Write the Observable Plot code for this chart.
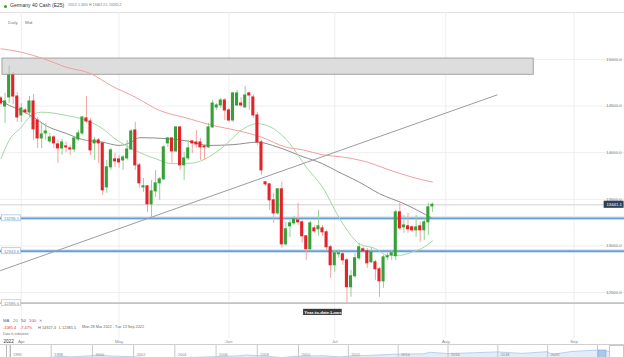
<!DOCTYPE html>
<html><head><meta charset="utf-8">
<script src="https://cdn.jsdelivr.net/npm/d3@7"></script>
<script src="https://cdn.jsdelivr.net/npm/@observablehq/plot@0.6"></script>
<style>
body{margin:0;background:#fff;font-family:Arial,"Liberation Sans",sans-serif;}
#wrap{position:relative;width:624px;height:357px;overflow:hidden;background:#fff;}
.t{position:absolute;white-space:nowrap;line-height:1;}
#main{position:absolute;left:0;top:12px;}
#navA{position:absolute;left:0;top:345px;}
#navB{position:absolute;left:298px;top:345px;}
#navline{position:absolute;left:0;top:344px;width:624px;height:0;border-top:1px solid #cfcfcf;}
#hdrline{position:absolute;left:0;top:12px;width:624px;height:0;border-top:1px solid #e2e2e2;}
</style></head>
<body><div id="wrap"><div id="hdrline"></div><div id="main"></div><div id="navA"></div><div id="navB"></div><div id="navline"></div></div>
<script>
// ---------------- data ----------------
// daily candles (trading-day index 0..106), Germany 40 Cash
const candleOpen  = [14582,14496,14593,14829,14603,14400,14453,14432,14550,14346,14153,14207,14121,14164,14089,14046,14067,14046,14035,14142,14207,14368,14335,14100,14132,14100,13628,13843,13928,13928,13917,13939,14035,14239,13864,13628,13639,13446,13585,13671,13714,14100,14153,14014,14271,13864,13939,14121,14110,14110,14067,14057,14271,14485,14507,14560,14453,14346,14507,14528,14485,14636,14593,14400,14110,13682,13660,13489,13349,13607,13017,13210,13242,13274,13253,13103,12964,13188,13178,13188,13146,12985,12792,12910,12910,12845,12556,12674,12867,12964,12942,12824,12824,12749,12620,12877,12899,12889,13360,13199,13210,13199,13167,13210,13167,13253,13424];
const candleHigh  = [14603,14636,14927,14861,14646,14528,14475,14603,14625,14378,14314,14314,14207,14185,14132,14142,14110,14078,14175,14239,14389,14603,14368,14164,14153,14110,13917,14046,13992,13971,13971,14132,14250,14325,13885,13724,13650,13703,13810,13735,14078,14164,14164,14282,14282,14003,14132,14132,14239,14153,14078,14314,14560,14528,14582,14582,14475,14646,14668,14593,14711,14646,14625,14432,14132,13693,13671,13564,13617,13682,13253,13274,13317,13457,13274,13114,13264,13220,13381,13220,13167,13006,12953,12953,12931,12867,12738,12921,13028,12985,12974,12985,12845,12770,12899,12921,12953,13381,13457,13328,13349,13220,13328,13253,13295,13457,13462];
const candleLow   = [14507,14314,14528,14518,14325,14325,14411,14378,14132,14046,14046,14132,14100,14046,13885,13971,14003,13971,14003,14121,14185,14314,13971,13917,13885,13542,13564,13810,13843,13832,13810,13917,14025,13810,13617,13574,13360,13306,13521,13489,13703,14057,13885,14003,13810,13703,13917,13992,14046,13917,13917,14046,14260,14453,14475,14346,14325,14325,14496,14485,14485,14453,14368,14078,13757,13639,13381,13242,13328,12974,12996,13092,13220,13220,13028,12845,12942,13135,13103,13103,12953,12652,12717,12867,12792,12386,12449,12652,12845,12921,12760,12813,12631,12449,12545,12845,12845,12845,13167,13135,13135,13146,13092,13038,13060,13114,13360];
const candleClose = [14528,14550,14829,14603,14378,14475,14432,14550,14250,14153,14196,14228,14164,14100,14046,14110,14057,14035,14153,14207,14378,14335,14025,14132,14100,13596,13843,14025,13907,13896,13949,14035,14228,13864,13671,13639,13446,13585,13671,13714,14057,14153,14014,14271,13864,13939,14046,14100,14089,14057,14057,14271,14528,14507,14560,14453,14346,14636,14636,14507,14614,14614,14400,14110,13810,13660,13489,13349,13607,13017,13178,13242,13285,13253,13103,12964,13242,13156,13210,13146,12985,12792,12921,12921,12845,12556,12674,12867,12985,12942,12813,12931,12749,12620,12877,12889,12921,13360,13188,13220,13178,13167,13199,13167,13253,13414,13441.1];

// moving averages (candle index, value)
const ma20Idx  = [0,2,5,7,10,16,21,25,28,33,38,42,47,51,55,59,63,67,71,75,79,83,86,88,92,95,98,101,104,106];
const ma20Val  = [13935,14132,14274,14381,14435,14400,14346,14257,14150,14024,13935,13882,13888,13953,14078,14239,14311,14257,14096,13845,13631,13309,13113,13024,12971,12899,12899,12934,12988,13052];
const ma50Idx  = [0,2,5,8,11,16,20,25,29,32,34,41,46,51,57,63,68,74,79,83,88,93,99,106];
const ma50Val  = [14560,14507,14453,14381,14292,14207,14142,14113,14078,14113,14161,14150,14124,14078,14086,14113,14060,13960,13882,13792,13685,13560,13453,13296];
const ma100Idx = [0,5,11,16,22,27,33,39,46,52,58,64,70,74,79,84,90,95,101,106];
const ma100Val = [15115,15078,15000,14917,14850,14721,14596,14453,14368,14292,14239,14167,14060,14032,13978,13953,13899,13821,13738,13685];

// drawn objects
const trendIdx = [-0.12, 121.9];
const trendVal = [12735, 14620];
const zoneIdx = [0.37, 130.9];
const zoneVal = [14836, 15010];
const levelValues = [13296.1, 12943.6, 12385.6];
const levelKinds  = ["blue", "blue", "gray"];
const lastPrice = 13441.1;
const ytdLabel = "Year-to-date-Lows";
const ytdLabelIdx = 79.1;

// axes / ticks
const yTicks = [12500, 13000, 13500, 14000, 14500, 15000];
const monthTickIdx = [5, 29, 56, 82, 109.3, 140.8];
const monthLabels = ["Apr", "May", "Jun", "Jul", "Aug", "Sep"];
const yearLabel = "2022";

// navigator (long history)
const navYear  = [1995.6,1996,1997,1998,1998.5,1999,2000,2000.2,2001,2002,2003.2,2004,2005,2006,2007,2007.5,2008,2009.2,2010,2011,2011.7,2012,2013,2014,2015,2015.3,2016,2017,2018,2019,2020,2020.2,2021,2022,2022.7];
const navValue = [2200,2300,2900,4300,6000,5000,7000,8000,6200,5200,2400,4000,4300,5400,6600,8000,7000,4000,6000,7000,5000,6100,7700,9500,9800,12300,10300,11500,13000,10600,13300,9000,13700,15800,13000];
const navTickYears = [1996,1998,2000,2002,2004,2006,2008,2010,2012,2014,2016,2018,2020,2022];
const navWindow = [2022.04, 2022.36];

// ---------------- build ----------------
const FONT = 'Arial, "Liberation Sans", sans-serif';
const candles = candleOpen.map((o, i) => ({i, o, h: candleHigh[i], l: candleLow[i], c: candleClose[i]}));
const up = candles.filter(d => d.c >= d.o);
const down = candles.filter(d => d.c < d.o);
const pts = (idx, vals) => idx.map((i, k) => ({i, v: vals[k]}));
const levels = levelValues.map((v, k) => ({v, kind: levelKinds[k]}));
const blueLevels = levels.filter(d => d.kind === "blue");
const grayLevels = levels.filter(d => d.kind === "gray");
const xDomain = [-0.12, 153.2];
const halfBody = 0.38;

const chart = Plot.plot({
  width: 624, height: 335,
  marginTop: 0, marginBottom: 9, marginLeft: 0, marginRight: 0,
  x: {domain: xDomain, range: [0, 624], axis: null},
  y: {domain: [12500, 15000], range: [280, 47], axis: null},
  style: {fontFamily: FONT, background: "transparent", overflow: "visible"},
  marks: [
    Plot.ruleY(yTicks, {stroke: "#eeeeee", strokeWidth: 1}),
    Plot.ruleX(monthTickIdx, {stroke: "#eeeeee", strokeWidth: 1}),
    Plot.rect([{a: zoneIdx[0], b: zoneIdx[1], lo: zoneVal[0], hi: zoneVal[1]}],
      {x1: "a", x2: "b", y1: "lo", y2: "hi", fill: "#dddddd", stroke: "#a3a3a3", strokeWidth: 1}),
    Plot.ruleY([lastPrice], {stroke: "#e0e0e0", strokeWidth: 1.6}),
    Plot.ruleY(blueLevels, {y: "v", stroke: "#c3d8ee", strokeWidth: 3.4}),
    Plot.ruleY(blueLevels, {y: "v", stroke: "#4c8bcb", strokeWidth: 1.1}),
    Plot.ruleY(grayLevels, {y: "v", stroke: "#c2c2c2", strokeWidth: 1.6}),
    Plot.line(pts(ma100Idx, ma100Val), {x: "i", y: "v", stroke: "#f2a0a0", strokeWidth: 1, curve: "monotone-x"}),
    Plot.line(pts(ma50Idx, ma50Val), {x: "i", y: "v", stroke: "#8e8e8e", strokeWidth: 1, curve: "monotone-x"}),
    Plot.line(pts(ma20Idx, ma20Val), {x: "i", y: "v", stroke: "#a3d9a3", strokeWidth: 1, curve: "monotone-x"}),
    Plot.line(pts(trendIdx, trendVal), {x: "i", y: "v", stroke: "#9c9c9c", strokeWidth: 1}),
    Plot.ruleX(up, {x: "i", y1: "l", y2: "h", stroke: "#93d193", strokeWidth: 1}),
    Plot.ruleX(down, {x: "i", y1: "l", y2: "h", stroke: "#f2a3a3", strokeWidth: 1}),
    Plot.rect(up, {x1: d => d.i - halfBody, x2: d => d.i + halfBody, y1: "o", y2: "c", fill: "#38a038", insetTop: -0.5, insetBottom: -0.5}),
    Plot.rect(down, {x1: d => d.i - halfBody, x2: d => d.i + halfBody, y1: "o", y2: "c", fill: "#e4222a", insetTop: -0.5, insetBottom: -0.5}),
    // level labels at the left
    Plot.rect(levels, {x1: xDomain[0] + 0.35, x2: xDomain[0] + 5.0, y1: d => d.v - 32, y2: d => d.v + 32,
      fill: "#ffffff", stroke: d => d.kind === "blue" ? "#a9c6e6" : "#c8c8c8", strokeWidth: 0.8}),
    Plot.text(levels, {x: xDomain[0] + 2.7, y: "v", text: d => d.v.toFixed(1), fontSize: 4.2,
      fill: d => d.kind === "blue" ? "#6a8fb8" : "#888888"}),
    // year-to-date lows label
    Plot.rect([{v: levelValues[2]}], {x1: ytdLabelIdx - 4.75, x2: ytdLabelIdx + 4.75, y1: d => d.v - 132, y2: d => d.v - 66, fill: "#3a3a3a"}),
    Plot.text([{v: levelValues[2]}], {x: ytdLabelIdx, y: d => d.v - 99, text: () => ytdLabel, fontSize: 4.3, fill: "#ffffff", fontWeight: "bold"}),
    // right price axis
    Plot.text(yTicks, {y: d => d, text: d => d.toFixed(1), frameAnchor: "right", dx: -3, textAnchor: "end", fontSize: 4.2, fill: "#7a7a7a"}),
    Plot.rect([lastPrice], {x1: xDomain[1] - 5.0, x2: xDomain[1] - 0.1, y1: d => d - 38, y2: d => d + 38, fill: "#2f4159"}),
    Plot.text([lastPrice], {y: d => d, text: d => d.toFixed(1), frameAnchor: "right", dx: -2.5, textAnchor: "end", fontSize: 4.3, fill: "#ffffff"}),
    // month labels
    Plot.text(monthTickIdx, {x: d => d, text: (d, i) => monthLabels[i], frameAnchor: "bottom", dy: 4, fontSize: 4.4, fill: "#8a8a8a"}),
    Plot.text([yearLabel], {text: d => d, frameAnchor: "bottom-left", dx: 3, dy: 4, textAnchor: "start", fontSize: 4.6, fill: "#333333"})
  ]
});
document.getElementById("main").appendChild(chart);

// navigator: two linear segments (older years are packed tighter in the reference)
function navSegment(from, to, width, showLast) {
  const ys = navYear.map((y, k) => ({i: y, v: navValue[k]})).filter(d => d.i >= from - 1 && d.i <= to + 1);
  const ticks = navTickYears.filter(y => y >= from && y < to);
  const win = navWindow[0] >= from && navWindow[0] <= to + 1 ? [navWindow] : [];
  return Plot.plot({
    width, height: 13, marginTop: 0, marginBottom: 0, marginLeft: 0, marginRight: 0,
    x: {domain: [from, to], range: from === 1996 ? [9.5, width] : [0, width - 27], axis: null},
    y: {domain: [0, 16000], range: [15, 5], axis: null},
    style: {fontFamily: FONT, background: "transparent", overflow: "hidden"},
    marks: [
      Plot.areaY(ys, {x: "i", y: "v", fill: "#e3edf8", stroke: "#a9c8e6", strokeWidth: 0.8}),
      Plot.rect(win, {x1: d => d[0], x2: d => d[1], y1: 0, y2: 16000, fill: "#a8c9ea", stroke: "#7aa6d2", strokeWidth: 0.6}),
      Plot.ruleX(showLast ? ticks.concat([to]) : ticks, {x: d => d, stroke: "#b9b9b9", strokeWidth: 0.8}),
      Plot.text(ticks, {x: d => d, text: d => String(d), dx: 3, textAnchor: "start", frameAnchor: "top", dy: 8, fontSize: 3.9, fill: "#8a8a8a"})
    ]
  });
}
document.getElementById("navA").appendChild(navSegment(1996, 2010, 298, false));
document.getElementById("navB").appendChild(navSegment(2010, 2022, 326, true));

// ---------------- header / footer text ----------------
const wrap = document.getElementById("wrap");
function put(txt, x, y, size, color, extra) {
  const s = document.createElement("div");
  s.className = "t"; s.textContent = txt;
  s.style.left = x + "px"; s.style.top = (y - size * 0.55) + "px";
  s.style.fontSize = size + "px"; s.style.color = color;
  if (extra) Object.assign(s.style, extra);
  wrap.appendChild(s);
}
const dot = document.createElement("div");
Object.assign(dot.style, {position: "absolute", left: "3.5px", top: "4.5px", width: "3px", height: "3px", borderRadius: "50%", background: "#2fa52f"});
wrap.appendChild(dot);
put("Germany 40 Cash (E25)", 10, 6, 5, "#333");
put("155.5", 68, 6, 3.5, "#3a7cc4");
put("1.16%", 78, 6, 3.5, "#3a7cc4");
put("H 13462.0 L 13265.2", 89, 6, 3.5, "#777");
put("Daily", 8, 23, 4.4, "#777");
put("Mid", 25, 23, 4.4, "#777");

put("MA", 3, 321.5, 4.3, "#666");
put("20", 13, 321.5, 4.3, "#3cae3c");
put("50", 21, 321.5, 4.3, "#444");
put("100", 29, 321.5, 4.3, "#e03434");
put("\u2715", 38.5, 321.5, 4.0, "#777");
put("-1085.4", 3, 328.5, 3.9, "#e03434");
put("-7.47%", 20, 328.5, 3.9, "#e03434");
put("H 14927.4", 38, 328.5, 3.9, "#666");
put("L 12385.5", 59, 328.5, 3.9, "#666");
put("Mon 28 Mar 2022 - Tue 13 Sep 2022", 82, 328.5, 3.8, "#666");
put("Data is indicative", 3, 335, 3.4, "#777");

const handle = document.createElement("div");
Object.assign(handle.style, {position: "absolute", left: "609px", top: "345px", width: "15px", height: "14px", border: "1px solid #c8c8c8", background: "#fff", boxSizing: "border-box"});
wrap.appendChild(handle);
const lhandle = document.createElement("div");
Object.assign(lhandle.style, {position: "absolute", left: "6px", top: "345px", width: "3px", height: "14px", borderLeft: "1px solid #bbb", borderRight: "1px solid #bbb"});
wrap.appendChild(lhandle);
</script>
</body></html>
